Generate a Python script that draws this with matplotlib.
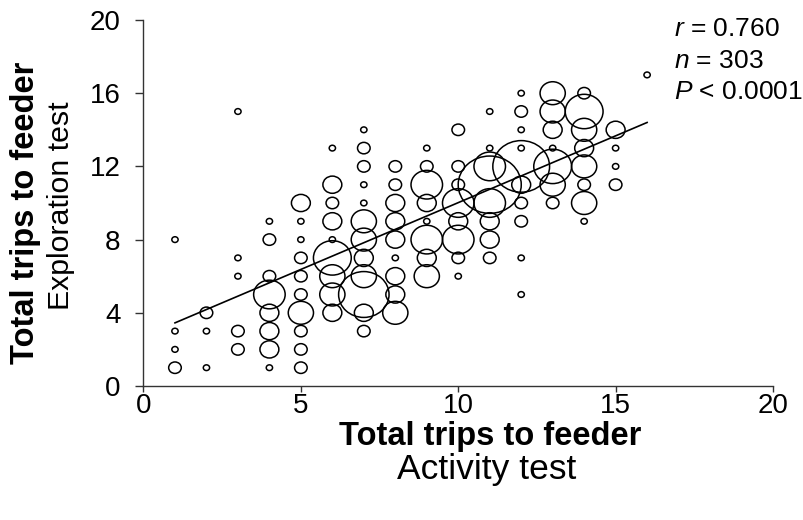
import numpy as np
import matplotlib
matplotlib.use("Agg")
import matplotlib.pyplot as plt
from matplotlib.path import Path
from matplotlib.transforms import Affine2D

plt.rcParams['font.family'] = ['Liberation Sans', 'DejaVu Sans']
plt.rcParams['mathtext.fontset'] = 'custom'
plt.rcParams['mathtext.rm'] = 'Liberation Sans'
plt.rcParams['mathtext.it'] = 'Liberation Sans:italic'

# Trips to feeder: activity test (x), exploration test (y), number of birds (count)
activity = (
    [1] * 4 + [2] * 3 + [3] * 5 + [4] * 8 + [5] * 10 + [6] * 9 + [7] * 12 + [8] * 9
    + [9] * 8 + [10] * 8 + [11] * 8 + [12] * 10 + [13] * 7 + [14] * 8 + [15] * 4 + [16] * 1
)
exploration = [
    8, 3, 2, 1,
    4, 3, 1,
    15, 7, 6, 3, 2,
    9, 8, 6, 5, 4, 3, 2, 1,
    10, 9, 8, 7, 6, 5, 4, 3, 2, 1,
    13, 11, 10, 9, 8, 7, 6, 5, 4,
    14, 13, 12, 11, 10, 9, 8, 7, 6, 5, 4, 3,
    12, 11, 10, 9, 8, 7, 6, 5, 4,
    13, 12, 11, 10, 9, 8, 7, 6,
    14, 12, 11, 10, 9, 8, 7, 6,
    15, 13, 12, 11, 10, 9, 8, 7,
    16, 15, 14, 13, 12, 11, 10, 9, 7, 5,
    16, 15, 14, 13, 12, 11, 10,
    16, 15, 14, 13, 12, 11, 10, 9,
    14, 13, 12, 11,
    17,
]
counts = [
    1, 1, 1, 2,
    2, 1, 1,
    1, 1, 1, 2, 2,
    1, 2, 2, 5, 3, 3, 3, 1,
    3, 1, 1, 2, 2, 2, 4, 2, 2, 2,
    1, 3, 2, 3, 1, 6, 4, 4, 3,
    1, 2, 2, 1, 1, 4, 4, 3, 4, 8, 3, 2,
    2, 2, 3, 3, 3, 1, 3, 3, 4,
    1, 2, 5, 3, 1, 5, 3, 4,
    2, 2, 2, 5, 3, 5, 2, 1,
    1, 1, 5, 10, 5, 3, 3, 2,
    1, 2, 1, 1, 9, 3, 2, 2, 1, 1,
    4, 4, 3, 1, 6, 4, 2,
    2, 6, 4, 3, 4, 2, 4, 1,
    3, 1, 1, 2,
    1,
]

# Least-squares line
fit_intercept = 2.72
fit_slope = 0.73
fit_range = [1, 16]

stats_lines = [r"$r$ = 0.760", r"$n$ = 303", r"$P$ < 0.0001"]
x_ticks = [0, 5, 10, 15, 20]
y_ticks = [0, 4, 8, 12, 16, 20]

fig = plt.figure(figsize=(8.04, 5.20), dpi=100)
ax = fig.add_axes([143.5 / 804, 1 - 386 / 520, 629.5 / 804, 366 / 520])

bubble = Affine2D().scale(1.1, 1.0).transform_path(Path.unit_circle())
sizes = (4.54 * np.asarray(counts)) ** 2
ax.scatter(activity, exploration, s=sizes, marker=bubble, facecolors='none',
           edgecolors='black', linewidths=1.1, zorder=2, clip_on=False)

xl = np.asarray(fit_range, dtype=float)
ax.plot(xl, fit_intercept + fit_slope * xl, color='black', lw=1.2, zorder=3)

ax.set_xlim(0, 20)
ax.set_ylim(0, 20)
ax.set_xticks(x_ticks)
ax.set_yticks(y_ticks)
for side in ('top', 'right'):
    ax.spines[side].set_visible(False)
for side in ('left', 'bottom'):
    ax.spines[side].set_color('#333333')
    ax.spines[side].set_linewidth(1.0)
ax.tick_params(direction='out', width=1, labelsize=20, color='#333333')
ax.tick_params(axis='y', length=6, pad=10.5)
ax.tick_params(axis='x', length=4, pad=1)

fig.text(490 / 804, 1 - 437 / 520, "Total trips to feeder", ha='center', va='center',
         fontsize=23.5, fontweight='bold')
fig.text(487 / 804, 1 - 470 / 520, "Activity test", ha='center', va='center', fontsize=25.5)
fig.text(26 / 804, 1 - 213 / 520, "Total trips to feeder", ha='center', va='center',
         fontsize=23.5, fontweight='bold', rotation=90)
fig.text(61 / 804, 1 - 206 / 520, "Exploration test", ha='center', va='center',
         fontsize=21.8, rotation=90)

for i, line in enumerate(stats_lines):
    fig.text(674 / 804, 1 - (29 + 31.5 * i) / 520, line, ha='left', va='center', fontsize=19)

fig.savefig("out.png", dpi=100)
